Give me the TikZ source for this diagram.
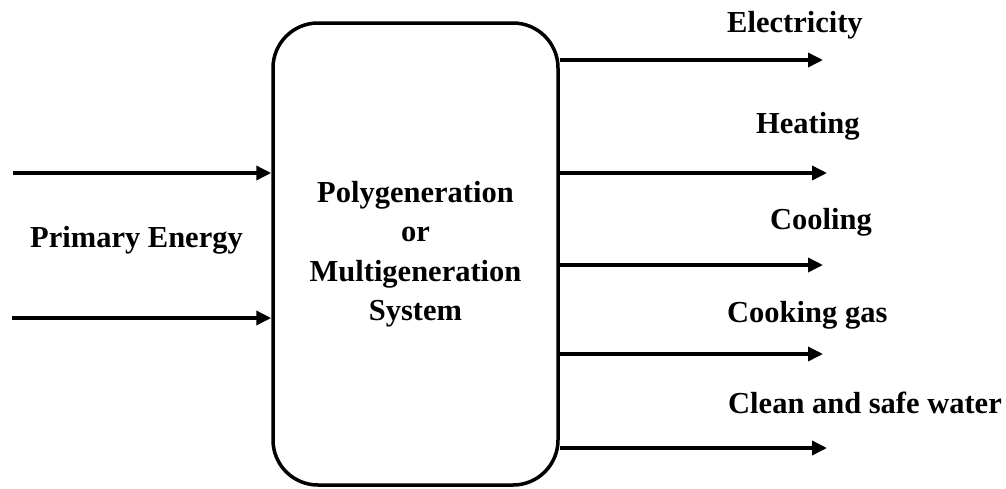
\documentclass[tikz,border=0pt]{standalone}
\usepackage{fontspec}
\setmainfont{Liberation Serif}
\usetikzlibrary{arrows.meta,positioning}

\tikzset{
    flow/.style={line width=3.5pt, -{Triangle[length=15pt,width=14pt]}},
    lbl/.style={anchor=base west, inner sep=0pt, font=\fontsize{30.5}{36}\selectfont\bfseries}
}

\begin{document}
\begin{tikzpicture}[x=1pt,y=-1pt]
    \useasboundingbox (0,0) rectangle (1006,488);

    % Sistema
    \node[draw, line width=3.5pt, rounded corners=45pt, minimum width=285pt, minimum height=462pt,
          align=center, font=\fontsize{30.5}{39.5}\selectfont\bfseries] (sys) at (415.5,254)
          {Polygeneration\\or\\Multigeneration\\System};

    % Ingressi
    \coordinate (in_a) at (13,173);
    \coordinate (in_b) at (12,318);
    \draw[flow] (in_a) -- (in_a -| sys.west);
    \draw[flow] (in_b) -- (in_b -| sys.west);
    \node[lbl] (primary) at (30,247) {Primary Energy};

    % Uscite
    \coordinate (out_el) at (823,60);
    \coordinate (out_he) at (827,173);
    \coordinate (out_co) at (823,265);
    \coordinate (out_cg) at (823,354);
    \coordinate (out_wa) at (827,448);
    \draw[flow] (out_el -| sys.east) -- (out_el);
    \draw[flow] (out_he -| sys.east) -- (out_he);
    \draw[flow] (out_co -| sys.east) -- (out_co);
    \draw[flow] (out_cg -| sys.east) -- (out_cg);
    \draw[flow] (out_wa -| sys.east) -- (out_wa);

    % Etichette
    \node[lbl] (el) at (727,32) {Electricity};
    \node[lbl] (he) at (756,133) {Heating};
    \node[lbl] (co) at (770,229) {Cooling};
    \node[lbl] (cg) at (727,322) {Cooking gas};
    \node[lbl] (wa) at (728,413) {Clean and safe water};
\end{tikzpicture}
\end{document}
